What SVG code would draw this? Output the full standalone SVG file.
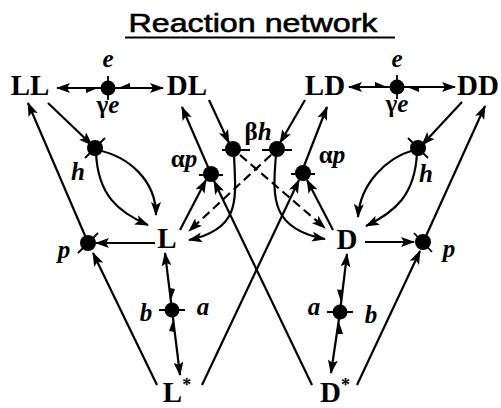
<svg xmlns="http://www.w3.org/2000/svg" width="501" height="408" viewBox="0 0 501 408">
<style>
.n{font-family:"Liberation Serif",serif;font-weight:bold;font-size:29px;text-anchor:middle;fill:#000}
.l{font-family:"Liberation Serif",serif;font-weight:bold;font-style:italic;font-size:25px;text-anchor:middle;fill:#000}
.g{font-style:normal}
.c{stroke:#000;stroke-width:2.2;fill:none;marker-end:url(#ah)}
.d{stroke-dasharray:9 5}
.t{stroke:#000;stroke-width:1.8;fill:none}
.b{fill:#000;stroke:none}
</style>
<defs>
<marker id="ah" viewBox="0 0 14 10" refX="13" refY="5" markerWidth="14" markerHeight="10" markerUnits="userSpaceOnUse" orient="auto"><path d="M0,0 L14,5 L0,10 L3,5 z"/></marker>
</defs>
<g id="title">
<text x="253" y="32" font-family="Liberation Sans,Arial,sans-serif" font-size="26" text-anchor="middle" textLength="249" lengthAdjust="spacingAndGlyphs" stroke="#000" stroke-width="0.6">Reaction network</text>
<line x1="125" y1="37.5" x2="395" y2="37.5" stroke="#000" stroke-width="2.2"/>
</g>
<g id="nodeLL"><text class="n" x="30" y="95">LL</text></g>
<g id="nodeDL"><text class="n" x="187" y="95">DL</text></g>
<g id="nodeLD"><text class="n" x="325" y="95">LD</text></g>
<g id="nodeDD"><text class="n" x="478" y="95">DD</text></g>
<g id="nodeL"><text class="n" x="167" y="248">L</text></g>
<g id="nodeD"><text class="n" x="347" y="249">D</text></g>
<g id="nodeLstar"><text class="n" x="177" y="402">L<tspan font-size="18" dy="-11">*</tspan></text></g>
<g id="nodeDstar"><text class="n" x="335" y="402">D<tspan font-size="18" dy="-11">*</tspan></text></g>
<g id="connectors">
<path class="c" d="M108,88 L57,88"/>
<path class="c" d="M108,88 L163,88"/>
<path class="c" d="M397,87 L349,87"/>
<path class="c" d="M397,87 L455,87"/>
<path class="c" d="M48,103 L92,145"/>
<path class="c" d="M97,150 C128,156 156,180 156,215"/>
<path class="c" d="M96,153 C98,195 118,212 148,225"/>
<path class="c" d="M155,243 L96,243"/>
<path class="c" d="M157,385 L93,253"/>
<path class="c" d="M86,238 L28,103"/>
<path class="c" d="M180,230 L206,180"/>
<path class="c" d="M312,385 L214,181"/>
<path class="c" d="M208,167 L182,107"/>
<path class="c" d="M209,100 L229,143"/>
<path class="c" d="M305,100 L280,143"/>
<path class="c" d="M234,155 C236,200 241,229 189,240"/>
<path class="c d" d="M240,155 L325,228"/>
<path class="c" d="M276,155 C272,200 272,229 325,239"/>
<path class="c d" d="M271,155 L189,231"/>
<path class="c" d="M333,230 L307,180"/>
<path class="c" d="M202,385 L299,180"/>
<path class="c" d="M304,166 L327,107"/>
<path class="c" d="M462,102 L422,145"/>
<path class="c" d="M414,150 C385,158 360,185 358,217"/>
<path class="c" d="M417,153 C415,195 395,212 366,226"/>
<path class="c" d="M365,242 L414,242"/>
<path class="c" d="M357,385 L420,251"/>
<path class="c" d="M426,236 L485,106"/>
<path class="c" d="M172,310 L165,253"/>
<path class="c" d="M172,310 L180,375"/>
<path class="c" d="M340,312 L347,254"/>
<path class="c" d="M340,312 L331,373"/>
<path class="b" d="M98,88 L86,88 L86,93 z"/>
<path class="b" d="M118,88 L130,88 L130,83 z"/>
<path class="b" d="M387,87 L375,87 L375,82 z"/>
<path class="b" d="M407,87 L419,87 L419,92 z"/>
<path class="b" d="M171,300 L169.5,288 L175,289 z"/>
<path class="b" d="M173,320 L174.5,332 L169,331 z"/>
<path class="b" d="M341,302 L342.5,290 L337,289.5 z"/>
<path class="b" d="M339,322 L337.5,334 L343,334 z"/>
<path class="t" d="M108,76 L108,100"/>
<path class="t" d="M397,75 L397,99"/>
<path class="t" d="M222,150 L250,150 M262,150 L292,150"/>
<path class="t" d="M199,175 L223,175 M291,174 L315,174"/>
<path class="t" d="M159,310 L185,310 M327,312 L353,312"/>
<path class="t" d="M85,158 L105,138 M408,138 L428,158"/>
<path class="t" d="M78,253 L98,233 M414,233 L432,252"/>
</g>
<g id="dots">
<circle cx="108" cy="88" r="7.5"/>
<circle cx="397" cy="87" r="7.5"/>
<circle cx="95" cy="148" r="8"/>
<circle cx="418" cy="148" r="8"/>
<circle cx="88" cy="243" r="8"/>
<circle cx="423" cy="242" r="8"/>
<circle cx="211" cy="174" r="8"/>
<circle cx="303" cy="173" r="8"/>
<circle cx="233" cy="149" r="8"/>
<circle cx="277" cy="149" r="8"/>
<circle cx="172" cy="310" r="7.5"/>
<circle cx="340" cy="312" r="7.5"/>
</g>
<g id="labels">
<text class="l" x="108" y="67">e</text>
<text class="l" x="108" y="113"><tspan class="g">γ</tspan>e</text>
<text class="l" x="397" y="67">e</text>
<text class="l" x="397" y="112"><tspan class="g">γ</tspan>e</text>
<text class="l" x="78" y="180">h</text>
<text class="l" x="426" y="182">h</text>
<text class="l" x="64" y="258">p</text>
<text class="l" x="449" y="257">p</text>
<text class="l" x="184" y="167"><tspan class="g">α</tspan>p</text>
<text class="l" x="332" y="163"><tspan class="g">α</tspan>p</text>
<text class="l" x="258" y="140"><tspan class="g">β</tspan>h</text>
<text class="l" x="146" y="321">b</text>
<text class="l" x="203" y="315">a</text>
<text class="l" x="314" y="315">a</text>
<text class="l" x="371" y="323">b</text>
</g>
</svg>
